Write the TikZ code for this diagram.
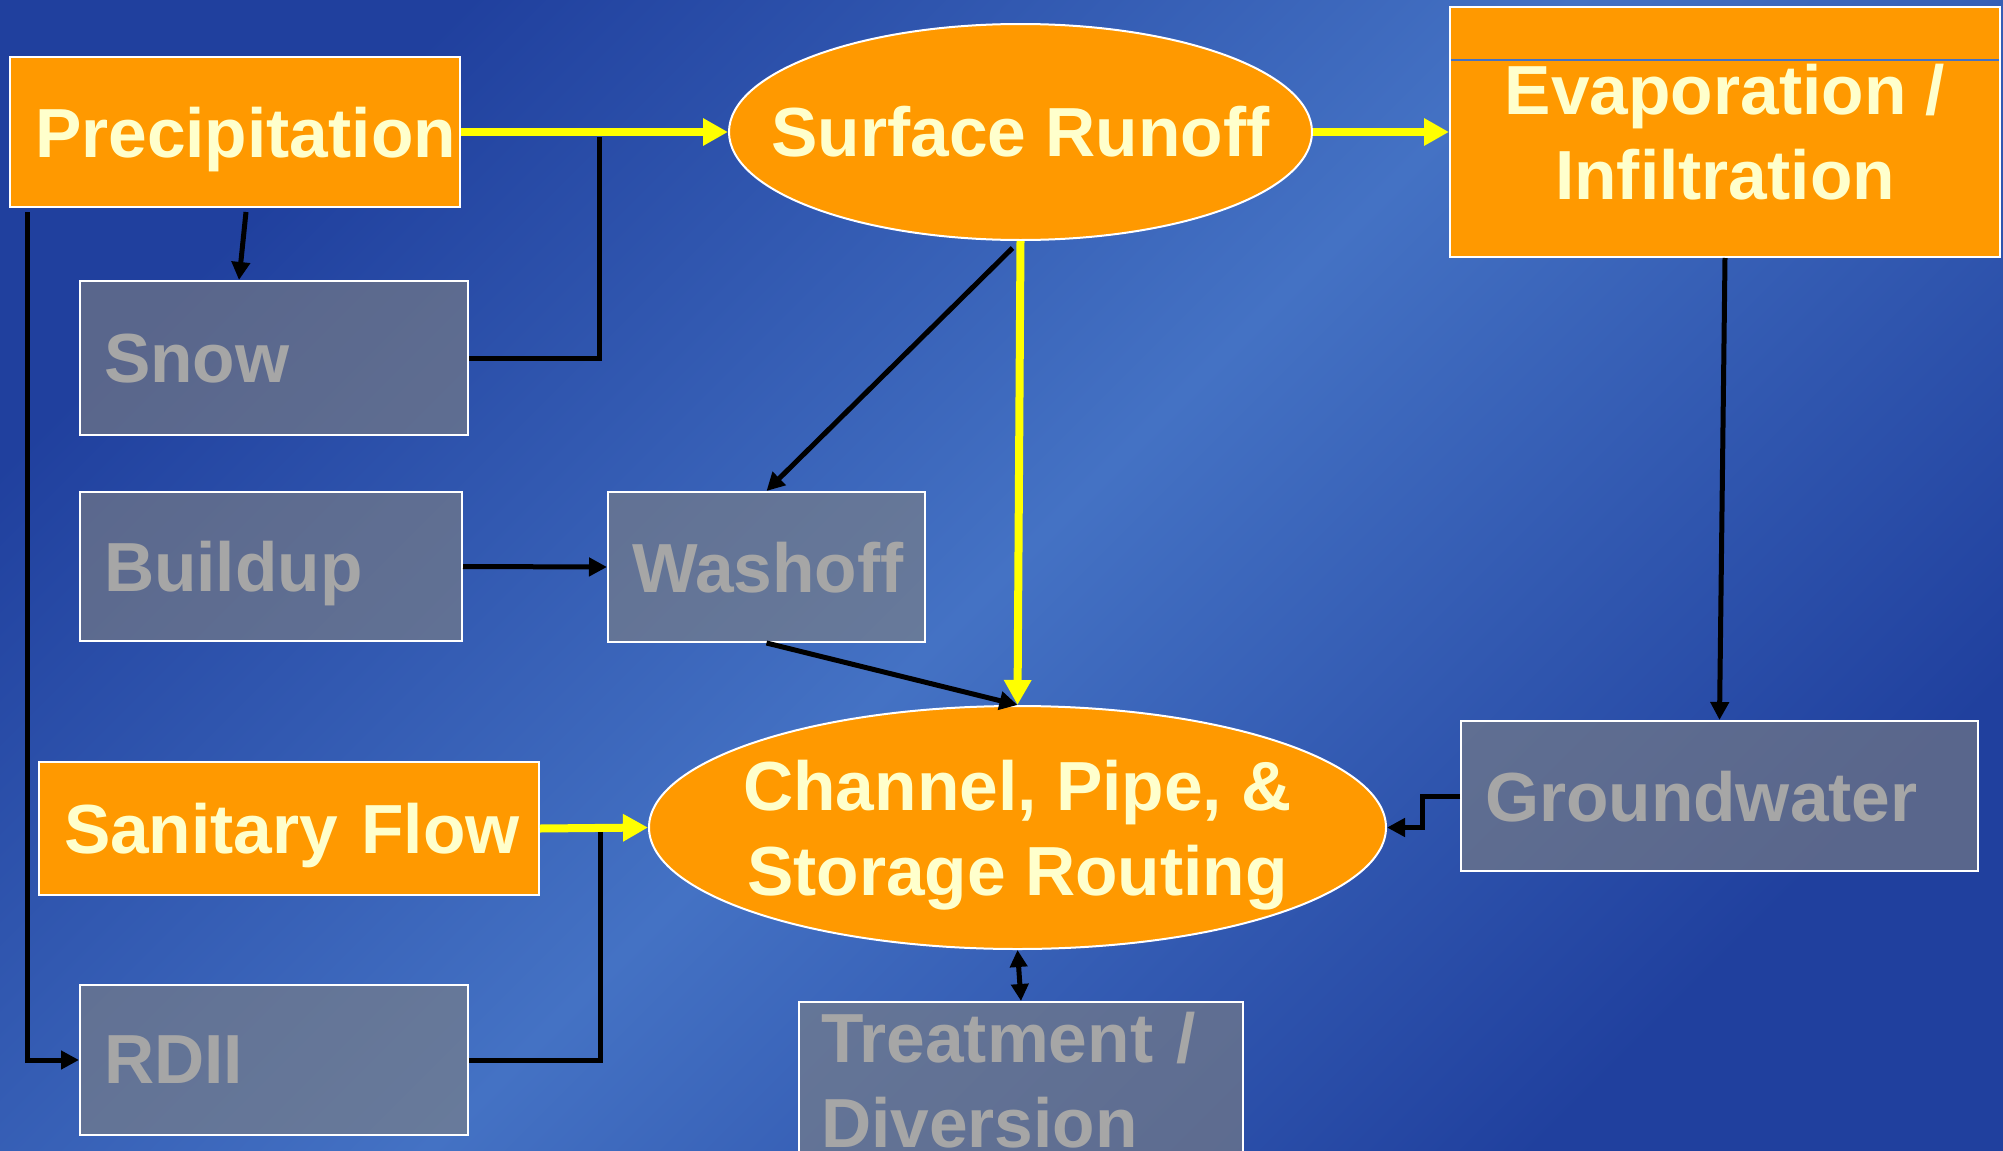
\documentclass[tikz,border=0pt]{standalone}
\usepackage{fontspec}
\setmainfont{Liberation Sans}
\usetikzlibrary{arrows.meta,shapes.geometric,calc}
\definecolor{bgdark}{RGB}{32,64,158}
\definecolor{bglight}{RGB}{68,114,196}
\definecolor{orng}{RGB}{255,153,0}
\definecolor{ltyel}{RGB}{255,255,204}
\definecolor{gtext}{RGB}{166,166,166}
\definecolor{gfill}{RGB}{128,128,128}
\definecolor{yel}{RGB}{255,255,0}
\begin{document}
\begin{tikzpicture}[x=1pt,y=-1pt,
  every node/.style={font=\fontsize{69.5}{85}\selectfont\bfseries, inner ysep=0pt},
  obox/.style={rectangle, draw=white, line width=2pt, fill=orng, text=ltyel},
  gbox/.style={rectangle, draw=white, line width=2pt, fill=gfill, fill opacity=0.6, text opacity=1, text=gtext},
  oell/.style={ellipse, draw=white, line width=2pt, fill=orng, text=ltyel, inner sep=0pt},
  yarrow/.style={draw=yel, line width=8pt, -{Triangle[length=25pt,width=26pt]}},
  barrow/.style={draw=black, line width=5pt, -{Triangle[length=18pt,width=18pt]}},
  bline/.style={draw=black, line width=5pt},
]
\useasboundingbox (0,0) rectangle (2003,1151);
\clip (0,0) rectangle (2003,1151);
\shade[top color=bgdark, bottom color=bgdark, middle color=bglight, shading angle=45] (0,0) rectangle (2003,1151);

% nodes
\node[obox, minimum width=450pt, minimum height=150pt, text width=400pt, inner xsep=25pt, align=left, text depth=0pt] (prec) at (235,132) {\mbox{Precipitation}};
\node[oell, minimum width=583pt, minimum height=216pt] (sr) at (1020.5,132) {\makebox[0pt]{Surface Runoff}};
\node[obox, minimum width=550pt, minimum height=250pt, align=center] (evap) at (1725,132) {Evaporation /\\Infiltration};
\node[gbox, minimum width=388pt, minimum height=154pt, text width=340pt, inner xsep=24pt, align=left, text depth=0pt] (snow) at (274,358) {\mbox{Snow}};
\node[gbox, minimum width=382pt, minimum height=149pt, text width=334pt, inner xsep=24pt, align=left, text depth=0pt] (build) at (271,566.5) {\mbox{Buildup}};
\node[gbox, minimum width=317pt, minimum height=150pt, text width=269pt, inner xsep=24pt, align=left, text depth=0pt] (wash) at (766.5,567) {\mbox{Washoff}};
\node[oell, minimum width=737pt, minimum height=243pt, align=center] (ch) at (1017.5,827.5) {\makebox[0pt]{Channel, Pipe, \&}\\\makebox[0pt]{\smash{Storage Routing}}};
\node[obox, minimum width=500pt, minimum height=133pt, text width=450pt, inner xsep=25pt, align=left, text depth=0pt] (san) at (289,828.5) {\mbox{Sanitary Flow}};
\node[gbox, minimum width=388pt, minimum height=150pt, text width=340pt, inner xsep=24pt, align=left, text depth=0pt] (rdii) at (274,1060) {\mbox{RDII}};
\node[gbox, minimum width=517pt, minimum height=150pt, text width=469pt, inner xsep=24pt, align=left, text depth=0pt] (gw) at (1719.5,796) {\mbox{Groundwater}};
\node[gbox, minimum width=444pt, minimum height=156pt, text width=400pt, inner xsep=22pt, align=left] (treat) at (1021,1080) {\mbox{Treatment /}\\\mbox{Diversion}};

% thin line inside evaporation box
\draw[draw=bglight, line width=1.2pt] ([xshift=2pt,yshift=-54pt]evap.north west) -- ([xshift=-2pt,yshift=-54pt]evap.north east);

% junction coordinates
\coordinate (j1) at (599,137);
\coordinate (j2) at (600,832);

% connectors
\draw[bline] (snow.east) -| (j1);
\draw[bline] (rdii.east) -| (j2);
\draw[yarrow] (prec.east) -- (sr.west);
\draw[yarrow] (sr.east) -- (evap.west);
\draw[yarrow] (sr.south) -- (ch.north);
\draw[yarrow] (san.east) -- (ch.west);
\draw[barrow] ([xshift=11pt,yshift=-4pt]prec.south) -- ([xshift=-35pt]snow.north);
\draw[barrow] ([xshift=18pt,yshift=-4pt]prec.south west) |- (rdii.west);
\draw[barrow] ([xshift=-8pt,yshift=-7pt]sr.south) -- (wash.north);
\draw[barrow] (build.east) -- (wash.west);
\draw[barrow] (wash.south) -- (ch.north);
\draw[barrow] (evap.south) -- (gw.north);
\draw[barrow] (gw.west) -- ++(-38,0) |- (ch.east);
\draw[draw=black, line width=5pt, {Triangle[length=17pt,width=17pt]}-{Triangle[length=17pt,width=17pt]}] (ch.south) -- (treat.north);
\end{tikzpicture}
\end{document}
